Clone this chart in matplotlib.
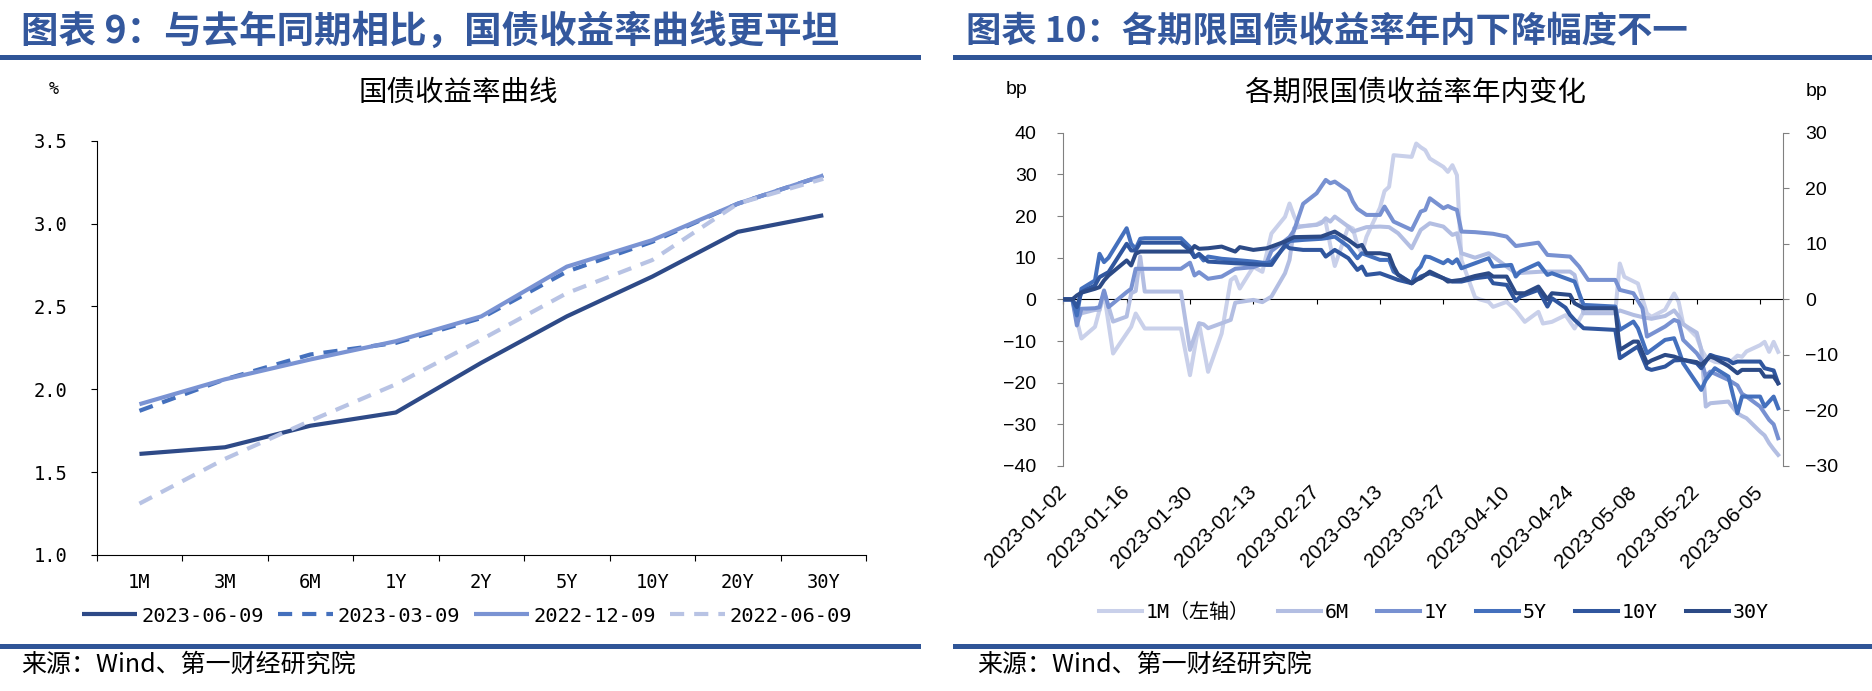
import matplotlib
matplotlib.use("Agg")
import matplotlib.pyplot as plt
import matplotlib.dates as mdates
from matplotlib.lines import Line2D
import numpy as np
import pandas as pd

plt.rcParams['font.family'] = ['DejaVu Sans Mono', 'Noto Sans CJK SC']
plt.rcParams['axes.unicode_minus'] = True
cjk = ['Noto Sans CJK SC', 'DejaVu Sans']
arial = ['Liberation Sans', 'DejaVu Sans']

# ---------------- left chart data (%) ----------------
tenors = ["1M", "3M", "6M", "1Y", "2Y", "5Y", "10Y", "20Y", "30Y"]
y_20230609 = [1.61, 1.65, 1.78, 1.86, 2.16, 2.44, 2.68, 2.95, 3.05]
y_20230309 = [1.87, 2.06, 2.21, 2.28, 2.43, 2.71, 2.89, 3.12, 3.29]
y_20221209 = [1.91, 2.06, 2.18, 2.29, 2.44, 2.74, 2.90, 3.12, 3.29]
y_20220609 = [1.31, 1.58, 1.81, 2.03, 2.30, 2.58, 2.78, 3.12, 3.27]
curve_names = ["2023-06-09", "2023-03-09", "2022-12-09", "2022-06-09"]

# ---------------- right chart data (bp, change since start of year) ----------------
# 1M is on the left axis, the rest on the right axis
s_1m = [("01-02", 0), ("01-04", 0), ("01-05", -5), ("01-06", -9.4), ("01-09", -6.6), ("01-11", 1.4),
        ("01-13", -13), ("01-17", -6.6), ("01-18", -3.4), ("01-20", -7), ("01-28", -7), ("01-30", -18.2),
        ("02-01", -5.8), ("02-03", -17.4), ("02-06", -8.2), ("02-07", -1.8), ("02-08", 4.6), ("02-09", 5.4),
        ("02-10", 2.6), ("02-13", 7.8), ("02-15", 6.6), ("02-17", 15.8), ("02-20", 19.8), ("02-21", 23),
        ("02-22", 20), ("02-23", 17.6), ("02-24", 17.5), ("02-27", 18), ("02-28", 18.6), ("03-01", 18.6),
        ("03-02", 13), ("03-03", 8), ("03-06", 17.5), ("03-07", 17), ("03-08", 13), ("03-09", 11),
        ("03-10", 15), ("03-13", 22), ("03-14", 26), ("03-15", 27), ("03-16", 34.6), ("03-20", 34.2),
        ("03-21", 37.4), ("03-22", 36.5), ("03-23", 35.8), ("03-24", 33.8), ("03-27", 31.8), ("03-28", 30.6),
        ("03-29", 32.2), ("03-30", 29.8), ("03-31", 9.4), ("04-03", 0.5), ("04-04", 0), ("04-06", -0.6),
        ("04-07", -1.8), ("04-10", -0.6), ("04-12", -2.6), ("04-14", -5.4), ("04-17", -3), ("04-18", -5.8),
        ("04-20", -5.4), ("04-23", -3.8), ("04-25", -7), ("04-27", -3), ("05-04", -3), ("05-05", 8.6),
        ("05-06", 5.4), ("05-09", 3.8), ("05-11", -3.4), ("05-12", -4.2), ("05-15", -2.5), ("05-17", 1.4),
        ("05-18", -0.6), ("05-19", -5.8), ("05-22", -9), ("05-23", -12), ("05-24", -13.8), ("05-25", -14.5),
        ("05-26", -15), ("05-29", -15.5), ("05-30", -14.5), ("05-31", -13.5), ("06-01", -13.8), ("06-02", -12.5),
        ("06-05", -11), ("06-06", -10.2), ("06-07", -12.6), ("06-08", -10.2), ("06-09", -12.6)]

s_6m = [("01-02", 0), ("01-04", 0), ("01-05", -3.7), ("01-06", -2.5), ("01-09", -1.9), ("01-10", -1.9),
        ("01-11", 1.4), ("01-13", -4), ("01-16", -3.1), ("01-17", 1.1), ("01-18", 1.5), ("01-19", 7.7),
        ("01-20", 1.4), ("01-28", 1.4), ("01-30", -9.1), ("02-01", -4.3), ("02-02", -4.5), ("02-03", -5.2),
        ("02-06", -4.3), ("02-08", -3.7), ("02-09", -0.6), ("02-13", -0.1), ("02-15", -0.5), ("02-17", 0.5),
        ("02-20", 4.7), ("02-21", 7.1), ("02-22", 12.8), ("02-24", 13.2), ("02-27", 13.4), ("02-28", 13.7),
        ("03-01", 14.6), ("03-02", 14), ("03-03", 14.9), ("03-06", 13.1), ("03-07", 12.2), ("03-10", 13),
        ("03-13", 13.1), ("03-15", 13), ("03-17", 11.9), ("03-20", 9.2), ("03-22", 12.5), ("03-23", 13.1),
        ("03-24", 13.7), ("03-27", 13.1), ("03-29", 11.6), ("03-30", 11.9), ("03-31", 8.3), ("04-03", 7.5),
        ("04-06", 8.3), ("04-07", 7.7), ("04-10", 5.9), ("04-12", 4.7), ("04-18", 5), ("04-24", 5),
        ("04-25", 4.4), ("04-26", 1), ("04-27", -2.5), ("05-04", -2.5), ("05-05", -2), ("05-08", -2.8),
        ("05-10", -3.2), ("05-12", -3.5), ("05-15", -3), ("05-17", -2), ("05-18", -3), ("05-19", -4.5),
        ("05-22", -6), ("05-23", -9), ("05-24", -19.3), ("05-25", -18.7), ("05-29", -18.4), ("05-30", -19.5),
        ("05-31", -20.5), ("06-01", -21), ("06-02", -21.4), ("06-05", -23.8), ("06-06", -24.5), ("06-07", -25.9),
        ("06-08", -27), ("06-09", -28)]

s_1y = [("01-02", 0), ("01-04", 0), ("01-05", -4.7), ("01-06", -1.7), ("01-09", -1.6), ("01-10", -1.4),
        ("01-11", 1.6), ("01-12", -1.4), ("01-16", 1.3), ("01-17", 1.9), ("01-18", 5.5), ("01-20", 5.5),
        ("01-28", 5.5), ("01-30", 6.6), ("01-31", 4.3), ("02-01", 4.9), ("02-03", 3.7), ("02-06", 4.1),
        ("02-09", 5.5), ("02-13", 5.8), ("02-16", 6.7), ("02-17", 8.7), ("02-21", 11.2), ("02-22", 12.4),
        ("02-24", 17.2), ("02-27", 19.1), ("03-01", 21.5), ("03-02", 20.9), ("03-03", 21.2), ("03-06", 19.5),
        ("03-07", 17.6), ("03-08", 16.3), ("03-10", 15.2), ("03-13", 15.2), ("03-14", 16.7), ("03-16", 14),
        ("03-20", 12.5), ("03-22", 15.8), ("03-23", 16.1), ("03-24", 18.2), ("03-27", 16.4), ("03-28", 16.8),
        ("03-29", 16.4), ("03-30", 16.1), ("03-31", 12.2), ("04-03", 12.1), ("04-07", 11.8), ("04-10", 11.3),
        ("04-12", 9.6), ("04-17", 10.2), ("04-19", 8), ("04-24", 7.7), ("04-26", 5.9), ("04-28", 3.5),
        ("05-04", 3.5), ("05-05", 1.7), ("05-08", 1.1), ("05-10", -1.6), ("05-11", -6.7), ("05-15", -4.9),
        ("05-17", -3.7), ("05-18", -4), ("05-19", -7.3), ("05-22", -9.7), ("05-23", -10.9), ("05-24", -13.9),
        ("05-25", -13), ("05-29", -14.5), ("05-31", -15.5), ("06-01", -17), ("06-02", -17.5), ("06-05", -19.3),
        ("06-07", -21.7), ("06-08", -22.5), ("06-09", -25)]

s_5y = [("01-02", 0), ("01-04", 0), ("01-05", -2.9), ("01-06", 1.9), ("01-09", 3.4), ("01-10", 8.2),
        ("01-11", 6.7), ("01-12", 7.5), ("01-16", 12.8), ("01-17", 10), ("01-18", 9.1), ("01-19", 10.9),
        ("01-20", 11), ("01-28", 11), ("01-30", 9.4), ("01-31", 7.6), ("02-01", 8), ("02-02", 7),
        ("02-03", 7.7), ("02-06", 7.3), ("02-09", 7.1), ("02-13", 6.8), ("02-16", 6.5), ("02-17", 6.8),
        ("02-20", 9.5), ("02-21", 10.5), ("02-24", 10.7), ("02-28", 10.9), ("03-01", 11), ("03-03", 11.3),
        ("03-06", 9.5), ("03-08", 7.4), ("03-09", 8.3), ("03-13", 7.1), ("03-15", 7.1), ("03-16", 5),
        ("03-20", 2.9), ("03-21", 5), ("03-22", 5.9), ("03-23", 7.7), ("03-24", 7.6), ("03-27", 6.5),
        ("03-28", 7.1), ("03-29", 6.5), ("03-30", 7.2), ("03-31", 5.6), ("04-03", 6.5), ("04-06", 7.4),
        ("04-07", 5.9), ("04-11", 6.2), ("04-12", 4.1), ("04-13", 5), ("04-17", 6.5), ("04-19", 4.4),
        ("04-20", 4.7), ("04-23", 3.8), ("04-25", 3.2), ("04-27", -1), ("05-04", -1.3), ("05-05", -5.5),
        ("05-08", -4), ("05-09", -5.2), ("05-11", -9.7), ("05-15", -7.3), ("05-17", -7), ("05-18", -9.1),
        ("05-19", -11.5), ("05-22", -15.1), ("05-23", -16.3), ("05-24", -14.5), ("05-26", -12.4), ("05-29", -13.9),
        ("05-31", -20.5), ("06-01", -17.5), ("06-05", -17.5), ("06-06", -19.3), ("06-08", -17.5), ("06-09", -19.6)]

s_10y = [("01-02", 0), ("01-04", 0), ("01-05", -1.4), ("01-06", 1.3), ("01-09", 2.5), ("01-10", 4),
         ("01-12", 4.9), ("01-16", 10), ("01-17", 8.8), ("01-18", 8.8), ("01-19", 10.2), ("01-28", 10.2),
         ("01-30", 8.8), ("01-31", 7.6), ("02-01", 8.2), ("02-03", 6.8), ("02-09", 6.5), ("02-16", 6.2),
         ("02-17", 6.2), ("02-20", 9.8), ("02-21", 9.2), ("02-24", 8.9), ("02-28", 8.9), ("03-01", 7.7),
         ("03-03", 8.9), ("03-06", 7.4), ("03-08", 5.3), ("03-09", 5.9), ("03-10", 4.4), ("03-13", 4.7),
         ("03-15", 4.1), ("03-17", 3.5), ("03-20", 2.9), ("03-22", 4.1), ("03-24", 4.7), ("03-27", 3.8),
         ("03-29", 3.2), ("03-31", 3.2), ("04-03", 3.8), ("04-06", 4.1), ("04-07", 2.9), ("04-10", 2.6),
         ("04-12", -0.3), ("04-13", 0.5), ("04-17", 1.7), ("04-19", -1.3), ("04-20", 0.2), ("04-23", -1.5),
         ("04-24", -2.8), ("04-25", -3.7), ("04-27", -5.2), ("05-04", -5.5), ("05-05", -10.6), ("05-08", -9),
         ("05-09", -8.5), ("05-11", -12.4), ("05-12", -12.7), ("05-15", -12.1), ("05-17", -11), ("05-19", -10.9),
         ("05-22", -11.5), ("05-23", -12.4), ("05-25", -10), ("05-26", -10.3), ("05-29", -10.9), ("05-30", -11.5),
         ("05-31", -11.2), ("06-02", -11.2), ("06-05", -11.2), ("06-06", -12.4), ("06-07", -12.6), ("06-08", -12.8),
         ("06-09", -15.1)]

s_30y = [("01-02", 0), ("01-04", 0), ("01-05", 0.7), ("01-06", 1.2), ("01-09", 1.9), ("01-10", 2.2),
         ("01-11", 3.4), ("01-12", 4.3), ("01-16", 7), ("01-17", 6.1), ("01-18", 8.2), ("01-19", 8.6),
         ("01-28", 8.6), ("01-30", 8.6), ("01-31", 9.6), ("02-01", 9.1), ("02-03", 9.2), ("02-06", 9.5),
         ("02-09", 8.6), ("02-10", 9.4), ("02-13", 8.9), ("02-16", 9.2), ("02-20", 10.4), ("02-22", 11.2),
         ("02-28", 11.3), ("03-03", 12.2), ("03-06", 10.7), ("03-08", 9.5), ("03-09", 9.8), ("03-10", 8.3),
         ("03-13", 8.3), ("03-15", 8), ("03-16", 5.9), ("03-17", 4.4), ("03-20", 2.9), ("03-21", 3.5),
         ("03-22", 3.8), ("03-24", 5), ("03-27", 3.8), ("03-28", 3.2), ("03-31", 3.5), ("04-03", 4.2),
         ("04-06", 4.7), ("04-07", 4.1), ("04-10", 4.1), ("04-12", 1.1), ("04-14", 1.1), ("04-17", 2.3),
         ("04-19", 0), ("04-20", 1.1), ("04-24", 0.8), ("04-25", -0.7), ("04-27", -1.6), ("05-04", -1.6),
         ("05-05", -9.1), ("05-08", -7.6), ("05-09", -7.6), ("05-11", -11.5), ("05-12", -11), ("05-15", -10),
         ("05-17", -10.3), ("05-19", -10.9), ("05-22", -11.3), ("05-23", -11.8), ("05-24", -11), ("05-25", -10.3),
         ("05-26", -10.6), ("05-29", -12), ("05-31", -13.3), ("06-01", -12.7), ("06-05", -12.7), ("06-06", -13.9),
         ("06-08", -13.9), ("06-09", -15.1)]

series_names = ["1M（左轴）", "6M", "1Y", "5Y", "10Y", "30Y"]

# ---------------- styles ----------------
title_blue = "#34589d"
rule_blue = "#2f5597"
curve_colors = ["#2e4a87", "#4470bd", "#7a93d3", "#b8c3e4"]
curve_styles = ["-", "--", "-", "--"]
series_colors = ["#c9d0ea", "#b3bee2", "#7891d1", "#4470bd", "#30569e", "#2c4a86"]

W, H = 1872, 691
fig = plt.figure(figsize=(W / 100, H / 100), dpi=100)


def fx(x):
    return x / W


def fy(y):
    return 1 - y / H


def to_dates(s):
    return pd.to_datetime(["2023-" + d for d, v in s]), [v for d, v in s]


# headers, rules, sources
for x0, x1 in [(0, 918), (955, 1872)]:
    fig.add_artist(Line2D([fx(x0), fx(x1)], [fy(57), fy(57)], lw=3.6, color=rule_blue))
    fig.add_artist(Line2D([fx(x0), fx(x1)], [fy(646), fy(646)], lw=3.6, color=rule_blue))
fig.text(fx(21), fy(31), "图表 9：与去年同期相比，国债收益率曲线更平坦", fontsize=27, family=cjk,
         fontweight="bold", color=title_blue, va="center", ha="left")
fig.text(fx(966), fy(31), "图表 10：各期限国债收益率年内下降幅度不一", fontsize=25.5, family=cjk,
         fontweight="bold", color=title_blue, va="center", ha="left")
fig.text(fx(21), fy(665), "来源：Wind、第一财经研究院", fontsize=18, family=cjk, va="center", ha="left")
fig.text(fx(977), fy(665), "来源：Wind、第一财经研究院", fontsize=18, family=cjk, va="center", ha="left")

# ---------------- left chart ----------------
axL = fig.add_axes([fx(96.7), fy(555), fx(866) - fx(96.7), fy(140.7) - fy(555)])
xs = np.arange(len(tenors))
handlesL = []
for vals, name, c, ls in zip([y_20230609, y_20230309, y_20221209, y_20220609],
                             curve_names, curve_colors, curve_styles):
    ln, = axL.plot(xs, vals, color=c, lw=3.0, linestyle=ls, label=name, solid_capstyle="butt")
    if ls == "--":
        ln.set_dashes((3.4, 2.4))
    handlesL.append(ln)
axL.set_xlim(-0.5, 8.5)
axL.set_ylim(1.0, 3.5)
axL.set_yticks(np.arange(1.0, 3.51, 0.5))
axL.set_yticklabels(["%.1f" % v for v in np.arange(1.0, 3.51, 0.5)])
axL.set_xticks(np.arange(-0.5, 9, 1))
axL.set_xticklabels([])
axL.set_xticks(xs, minor=True)
axL.set_xticklabels(tenors, minor=True)
axL.tick_params(axis="x", which="major", length=4.3, direction="out")
axL.tick_params(axis="x", which="minor", length=0, pad=13, labelsize=13.5)
axL.tick_params(axis="y", length=4.3, pad=17, labelsize=13.5)
for sp in ["top", "right"]:
    axL.spines[sp].set_visible(False)
fig.text(fx(458), fy(93), "国债收益率曲线", fontsize=20.5, family=cjk, ha="center", va="center")
fig.text(fx(54), fy(89), "%", fontsize=12, ha="center", va="center")
fig.legend(handlesL, curve_names, loc="center", bbox_to_anchor=(fx(467), fy(616)), ncol=4,
           frameon=False, fontsize=14.7, handlelength=2.7, handletextpad=0.2, columnspacing=0.7)

# ---------------- right chart ----------------
axR = fig.add_axes([fx(1063.3), fy(466), fx(1782.7) - fx(1063.3), fy(132.7) - fy(466)])
axR2 = axR.twinx()
handlesR = []
d, v = to_dates(s_1m)
ln, = axR.plot(d, v, color=series_colors[0], lw=2.9)
handlesR.append(ln)
for s, c in zip([s_6m, s_1y, s_5y, s_10y, s_30y], series_colors[1:]):
    d, v = to_dates(s)
    ln, = axR2.plot(d, v, color=c, lw=2.9)
    handlesR.append(ln)

axR.set_xlim(pd.Timestamp("2023-01-02"), pd.Timestamp("2023-06-10"))
axR.set_ylim(-40, 40)
axR2.set_ylim(-30, 30)
axR.set_yticks(np.arange(-40, 41, 10))
axR2.set_yticks(np.arange(-30, 31, 10))
axR.set_xticks(pd.date_range("2023-01-02", "2023-06-05", freq="14D"))
axR.xaxis.set_major_formatter(mdates.DateFormatter("%Y-%m-%d"))
axR.spines["bottom"].set_position(("data", 0))
axR.spines["bottom"].set_color("black")
axR.spines["top"].set_visible(False)
axR.spines["right"].set_visible(False)
axR.spines["left"].set_color("#808080")
for sp in ["top", "bottom", "left"]:
    axR2.spines[sp].set_visible(False)
axR2.spines["right"].set_color("#808080")
axR.tick_params(axis="x", length=3.6, direction="out", pad=133, labelsize=15, color="black")
plt.setp(axR.get_xticklabels(), rotation=45, ha="right", va="center", rotation_mode="anchor",
         family=arial)
axR.tick_params(axis="y", length=4.3, pad=15, labelsize=14, color="#808080")
axR2.tick_params(axis="y", length=4.3, pad=12, labelsize=14, color="#808080")
plt.setp(axR.get_yticklabels(), family=arial)
plt.setp(axR2.get_yticklabels(), family=arial)

fig.text(fx(1415), fy(93), "各期限国债收益率年内变化", fontsize=20.5, family=cjk, ha="center", va="center")
fig.text(fx(1017), fy(90), "bp", fontsize=14, family=arial, ha="center", va="center")
fig.text(fx(1817), fy(92), "bp", fontsize=14, family=arial, ha="center", va="center")
fig.legend(handlesR, series_names, loc="center", bbox_to_anchor=(fx(1434), fy(612)), ncol=6,
           frameon=False, fontsize=14.4, handlelength=2.15, handletextpad=0.2, columnspacing=1.4)

fig.savefig("out.png", dpi=100)
